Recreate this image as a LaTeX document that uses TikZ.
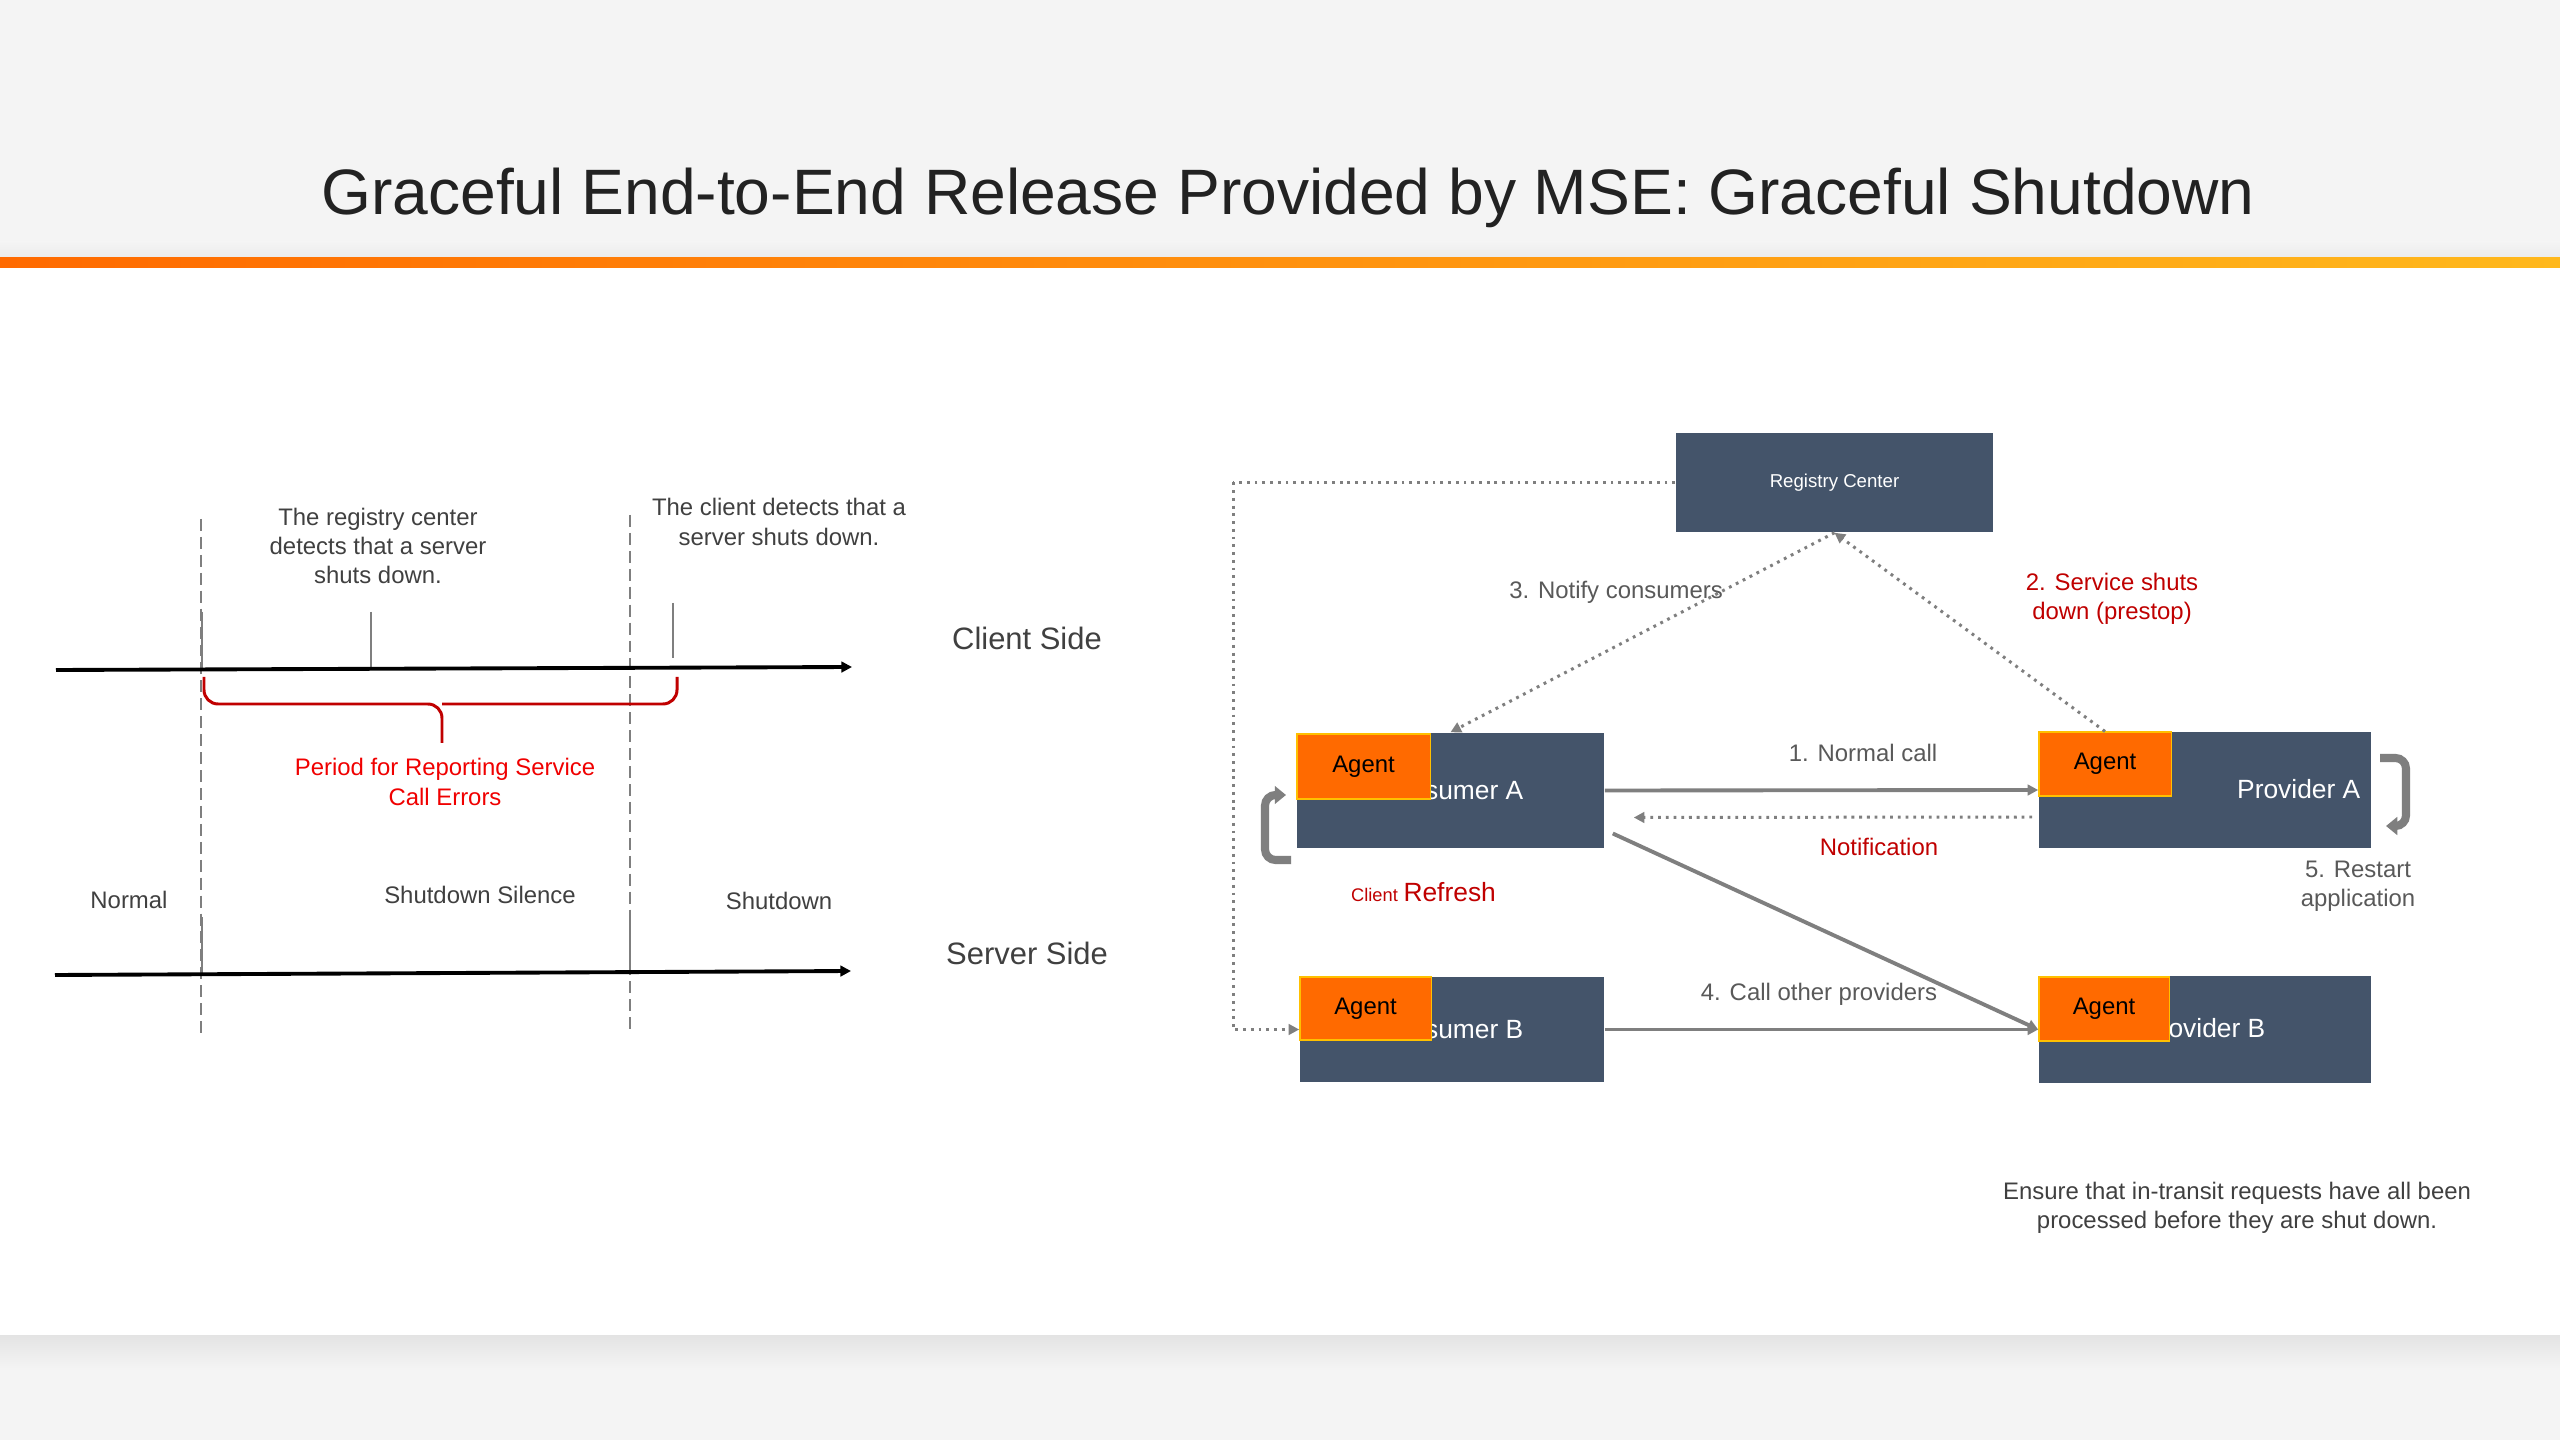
\documentclass[tikz,border=0pt]{standalone}
\usepackage{fontspec}
\setmainfont{Liberation Sans}
\usetikzlibrary{arrows.meta,calc}
\definecolor{boxc}{HTML}{44546A}
\definecolor{agentc}{HTML}{FF6A00}
\definecolor{agentb}{HTML}{FFC000}
\definecolor{txt}{HTML}{404040}
\definecolor{txtb}{HTML}{595959}
\definecolor{darkred}{HTML}{C00000}
\definecolor{brightred}{HTML}{F00000}
\definecolor{arr}{HTML}{7F7F7F}
\definecolor{bg}{HTML}{F4F4F4}
\definecolor{bgdark}{HTML}{E3E3E3}
\definecolor{bgmid}{HTML}{EBEBEB}
\definecolor{barL}{HTML}{FF6A00}
\definecolor{barR}{HTML}{FFB81C}
\definecolor{titlec}{HTML}{222222}
\begin{document}
\begin{tikzpicture}[x=0.01cm,y=-0.01cm,
  smalltext/.style={font=\fontsize{6.8}{8.3}\selectfont, text=txt, align=center, inner sep=0pt},
  sidetext/.style={font=\fontsize{8.8}{10}\selectfont, text=txt, inner sep=0pt},
  darkbox/.style={fill=boxc, draw=none, inner sep=0pt},
  agentbox/.style={fill=agentc, draw=agentb, line width=0.3pt, inner sep=0pt, font=\fontsize{6.8}{8}\selectfont, text=black},
  boxtext/.style={font=\fontsize{7.5}{9}\selectfont, text=white, inner sep=0pt},
  solidarrow/.style={draw=arr, line width=1.1pt, -{Triangle[length=3pt,width=3pt]}},
  dotarrow/.style={draw=arr, line width=0.85pt, dash pattern=on 0.8pt off 1.4pt, -{Triangle[length=3pt,width=3pt]}},
  dotline/.style={draw=arr, line width=0.85pt, dash pattern=on 0.8pt off 1.4pt},
  timeline/.style={draw=black, line width=1.1pt, -{Triangle[length=3pt,width=3pt]}},
  dashv/.style={draw=arr, line width=0.8pt, dash pattern=on 3.4pt off 1.7pt},
  tickline/.style={draw=arr, line width=0.8pt},
  bendarrow/.style={draw=arr, line width=2.3pt, rounded corners=3pt, -{Triangle[length=3.2pt,width=5pt]}},
  bracestyle/.style={draw=darkred, line width=0.85pt, rounded corners=4pt}
]
% background
\fill[bg] (0,0) rectangle (2560,1440);
\useasboundingbox (0,0) rectangle (2560,1440);
\shade[top color=bg, bottom color=bgmid] (0,242) rectangle (2560,258);
\fill[white] (0,268) rectangle (2560,1335);
\shade[top color=bgdark, bottom color=bg] (0,1335) rectangle (2560,1368);
\shade[left color=barL, right color=barR] (0,258) rectangle (2560,268);

% title
\node[font=\fontsize{18.25}{22}\selectfont, text=titlec, anchor=base, inner sep=0pt] (title) at (1288,215)
  {Graceful End-to-End Release Provided by MSE: Graceful Shutdown};

% ---------- timeline (left) ----------
\coordinate (cl0) at (56,670);
\coordinate (cl1) at (852,667);
\coordinate (sl0) at (55,975);
\coordinate (sl1) at (851,971);
\coordinate (d1t) at (201,519);
\coordinate (d1b) at (201,1037);
\coordinate (d2t) at (630,515);
\coordinate (d2b) at (630,1030);

\draw[dashv] (d1t) -- (d1b);
\draw[dashv] (d2t) -- (d2b);

\coordinate (t1a) at (202,612); \coordinate (t1b) at (202,670);
\coordinate (t2a) at (371,612); \coordinate (t2b) at (371,668);
\coordinate (t3a) at (673,603); \coordinate (t3b) at (673,658);
\coordinate (t4a) at (202,917); \coordinate (t4b) at (202,975);
\coordinate (t5a) at (630,915); \coordinate (t5b) at (630,973);
\draw[tickline] (t1a) -- (t1b);
\draw[tickline] (t2a) -- (t2b);
\draw[tickline] (t3a) -- (t3b);
\draw[tickline] (t4a) -- (t4b);
\draw[tickline] (t5a) -- (t5b);

\draw[timeline] (cl0) -- (cl1);
\draw[timeline] (sl0) -- (sl1);

% brace
\coordinate (brL) at (204,677);
\coordinate (brR) at (677,677);
\coordinate (brM) at (442,704);
\coordinate (brT) at (442,743);
\draw[bracestyle] (brL) |- (brM) -- (brT);
\draw[bracestyle] (brR) |- (brM);

\node[smalltext] (regdet) at (378,546) {The registry center\\detects that a server\\shuts down.};
\node[smalltext] (clidet) at (779,522) {The client detects that a\\server shuts down.};
\node[smalltext, text=brightred] (period) at (445,782) {Period for Reporting Service\\Call Errors};
\node[smalltext] (normal) at (129,900) {Normal};
\node[smalltext] (silence) at (480,895) {Shutdown Silence};
\node[smalltext] (shutdown) at (779,901) {Shutdown};
\node[sidetext] (clientside) at (1027,638) {Client Side};
\node[sidetext] (serverside) at (1027,953) {Server Side};

% ---------- architecture (right) ----------
\node[darkbox, minimum width=3.17cm, minimum height=0.99cm, text=white, font=\fontsize{5.3}{6}\selectfont] (reg) at (1834.5,482.5) {Registry Center};

\node[darkbox, minimum width=3.07cm, minimum height=1.15cm] (consA) at (1450.5,790.5) {};
\node[boxtext, anchor=east] (consAt) at (1524,790) {Consumer A};
\node[agentbox, minimum width=1.33cm, minimum height=0.65cm] (agA) at (1363.5,766.5) {Agent};

\node[darkbox, minimum width=3.04cm, minimum height=1.05cm] (consB) at (1452,1029.5) {};
\node[boxtext, anchor=east] (consBt) at (1524,1029) {Consumer B};
\node[agentbox, minimum width=1.31cm, minimum height=0.63cm] (agB) at (1365.5,1008.5) {Agent};

\node[darkbox, minimum width=3.32cm, minimum height=1.16cm] (provA) at (2205,790) {};
\node[boxtext, anchor=east] (provAt) at (2361,789) {Provider A};
\node[agentbox, minimum width=1.32cm, minimum height=0.64cm] (agPA) at (2105,764) {Agent};

\node[darkbox, minimum width=3.32cm, minimum height=1.07cm] (provB) at (2205,1029.5) {};
\node[boxtext, anchor=east] (provBt) at (2266,1028) {Provider B};
\node[agentbox, minimum width=1.30cm, minimum height=0.64cm] (agPB) at (2104,1009) {Agent};

% connectors
\coordinate (lft) at (1233,482.5);
\draw[dotline] (reg.west) -- (lft);
\draw[dotarrow] (lft) |- (consB.west);
\draw[dotarrow] (reg.south) -- (consA.north);
\draw[dotarrow] (agPA.north) -- (reg.south);
\draw[solidarrow] (consA.east) -- (provA.west);
\draw[dotarrow] ([shift={(-6,27)}]provA.west) -- ([shift={(29,27)}]consA.east);
\draw[solidarrow] ([shift={(8,43)}]consA.east) -- (provB.west);
\draw[solidarrow] (consB.east) -- (provB.west);

% curved arrows
\coordinate (crs) at (1291,860);
\coordinate (cre) at (1286,795);
\draw[bendarrow] (crs) -- (1265,860) -- (1265,795) -- (cre);
\coordinate (prs) at (2380,758);
\coordinate (pre) at (2386,826);
\draw[bendarrow] (prs) -- (2406,758) -- (2406,826) -- (pre);

% labels
\node[smalltext, text=txtb] (notify) at (1616,592) {3. Notify consumers};
\node[smalltext, text=darkred] (svcshut) at (2112,599) {2. Service shuts\\down (prestop)};
\node[smalltext, text=txtb] (normalcall) at (1863,753) {1. Normal call};
\node[smalltext, text=darkred] (notif) at (1879,847) {Notification};
\node[inner sep=0pt, text=darkred, anchor=base] (refresh) at (1423.5,902) {{\fontsize{5.2}{6}\selectfont Client}\hspace{1.6pt}{\fontsize{7.5}{9}\selectfont Refresh}};
\node[smalltext, text=txtb] (restart) at (2358,886.5) {5. Restart\\application};
\node[smalltext, text=txtb] (callother) at (1819,994) {4. Call other providers};
\node[smalltext] (ensure) at (2237,1207.5) {Ensure that in-transit requests have all been\\processed before they are shut down.};
\end{tikzpicture}
\end{document}
